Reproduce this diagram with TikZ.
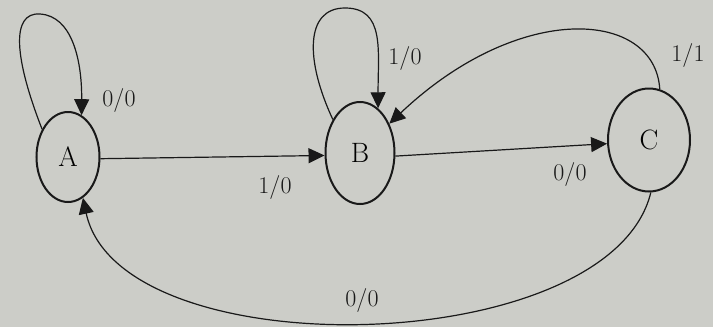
\documentclass[tikz,border=0pt]{standalone}
\usetikzlibrary{shapes.geometric,arrows.meta}
\definecolor{paper}{RGB}{204,205,200}
\definecolor{ink}{RGB}{25,25,25}
\begin{document}
\begin{tikzpicture}[x=1pt,y=-1pt,
  state/.style={ellipse,draw=ink,line width=2pt,inner sep=0pt,font=\fontsize{28}{30}\selectfont},
  edge/.style={draw=ink,line width=1.2pt,-{Triangle[length=16pt,width=15pt]}},
  lbl/.style={text=ink,font=\fontsize{24}{26}\selectfont}]
\fill[paper] (0,0) rectangle (713,327);
\useasboundingbox (0,0) rectangle (713,327);
\node[state,minimum width=63pt,minimum height=90pt] (A) at (68,157) {A};
\node[state,minimum width=69pt,minimum height=102pt] (B) at (360,153) {B};
\node[state,minimum width=82pt,minimum height=103pt] (C) at (649,140) {C};
% self loops
\draw[edge] (A.133) .. controls (15,60) and (10,12) .. (40,14) .. controls (72,16) and (82,60) .. (A.72);
\draw[edge] (B.129) .. controls (305,60) and (305,8) .. (345,8) .. controls (385,8) and (378,50) .. (B.68);
% transitions
\draw[edge] (A.-3) -- (B.184);
\draw[edge] (B.-5) -- (C.185);
\draw[edge] (C.78) .. controls (655,10) and (520,0) .. (B.45);
\draw[edge] (C.-88) .. controls (610,360) and (120,370) .. (A.-70);
% labels
\node[lbl] (l1) at (119,100) {0/0};
\node[lbl] (l2) at (275,187) {1/0};
\node[lbl] (l3) at (405,58) {1/0};
\node[lbl] (l4) at (570,174) {0/0};
\node[lbl] (l5) at (688,55) {1/1};
\node[lbl] (l6) at (362,300) {0/0};
\end{tikzpicture}
\end{document}
